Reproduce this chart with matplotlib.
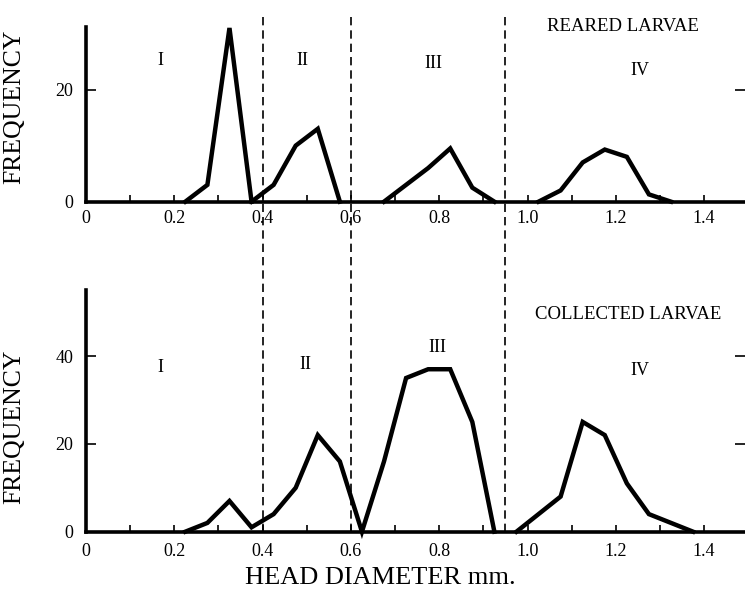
import matplotlib
matplotlib.use('Agg')
import matplotlib.pyplot as plt
import matplotlib.transforms as mtransforms
from matplotlib.ticker import MultipleLocator

plt.rcParams['font.family'] = ['Liberation Serif', 'DejaVu Serif']

# reared larvae, one line per instar
reared_I_x = [0.225, 0.275, 0.325, 0.375]
reared_I_y = [0, 3, 31, 0]
reared_II_x = [0.375, 0.425, 0.475, 0.525, 0.575]
reared_II_y = [0, 3, 10, 13, 0]
reared_III_x = [0.675, 0.725, 0.775, 0.825, 0.875, 0.925]
reared_III_y = [0, 3, 6, 9.5, 2.5, 0]
reared_IV_x = [1.025, 1.075, 1.125, 1.175, 1.225, 1.275, 1.325]
reared_IV_y = [0, 2, 7, 9.3, 8, 1.3, 0]

# collected larvae
coll_x = [0.225, 0.275, 0.325, 0.375, 0.425, 0.475, 0.525, 0.575, 0.625,
          0.675, 0.725, 0.775, 0.825, 0.875, 0.925]
coll_y = [0, 2, 7, 1, 4, 10, 22, 16, 0, 16, 35, 37, 37, 25, 0]
coll_IV_x = [0.975, 1.075, 1.125, 1.175, 1.225, 1.275, 1.375]
coll_IV_y = [0, 8, 25, 22, 11, 4, 0]

boundaries = [0.4, 0.6, 0.95]
instars = ['I', 'II', 'III', 'IV']
xticks = [0, 0.2, 0.4, 0.6, 0.8, 1.0, 1.2, 1.4]
xticklabels = ['0', '0.2', '0.4', '0.6', '0.8', '1.0', '1.2', '1.4']

fig = plt.figure(figsize=(7.45, 5.97), dpi=100)
ax1 = fig.add_axes([0.1154, 0.6622, 0.8846, 0.2928])
ax2 = fig.add_axes([0.1154, 0.1094, 0.8846, 0.4045])

xmax = 1.4926


def style(ax, ytop, yticks, pad_x):
    ax.set_xlim(0, xmax)
    ax.set_ylim(0, ytop)
    for s in ['top', 'right']:
        ax.spines[s].set_visible(False)
    ax.spines['left'].set_linewidth(2.6)
    ax.spines['bottom'].set_linewidth(2.6)
    ax.set_xticks(xticks)
    ax.set_xticklabels(xticklabels)
    ax.xaxis.set_minor_locator(MultipleLocator(0.1))
    ax.set_yticks(yticks)
    ax.tick_params(axis='x', which='both', direction='in', length=5, width=1.2,
                   labelsize=13, pad=pad_x)
    ax.tick_params(axis='y', which='major', direction='in', length=7, width=1.2,
                   labelsize=13, pad=9, right=True)
    ax.patch.set_alpha(0)


style(ax1, 31.2, [0, 20], 6)
style(ax2, 55, [0, 20, 40], 8)

lw = 3.2
for xs, ys in [(reared_I_x, reared_I_y), (reared_II_x, reared_II_y),
               (reared_III_x, reared_III_y), (reared_IV_x, reared_IV_y)]:
    ax1.plot(xs, ys, color='black', lw=lw, solid_joinstyle='miter', clip_on=False)
for xs, ys in [(coll_x, coll_y), (coll_IV_x, coll_IV_y)]:
    ax2.plot(xs, ys, color='black', lw=lw, solid_joinstyle='miter', clip_on=False)

# stage boundaries run through both panels
trans = mtransforms.blended_transform_factory(ax2.transData, fig.transFigure)
for b in boundaries:
    ax2.plot([b, b], [0.109, 0.98], transform=trans, color='black', lw=1.2,
             ls=(0, (5, 3)), clip_on=False)

# instar labels
up_pos = [(0.168, 25.2), (0.49, 25.2), (0.786, 24.6), (1.255, 23.4)]
low_pos = [(0.168, 37.5), (0.496, 38), (0.795, 42), (1.255, 36.8)]
for lab, (x, y) in zip(instars, up_pos):
    ax1.text(x, y, lab, ha='center', va='center', fontsize=13)
for lab, (x, y) in zip(instars, low_pos):
    ax2.text(x, y, lab, ha='center', va='center', fontsize=13)

ax1.text(1.216, 31.3, 'REARED LARVAE', ha='center', va='center', fontsize=13.5)
ax2.text(1.228, 49.4, 'COLLECTED LARVAE', ha='center', va='center', fontsize=13.5)

ax1.set_ylabel('FREQUENCY', fontsize=18.5)
ax1.yaxis.set_label_coords(-0.0926, 0.542)
ax2.set_ylabel('FREQUENCY', fontsize=18.5)
ax2.yaxis.set_label_coords(-0.0926, 0.434)
ax2.set_xlabel('HEAD DIAMETER mm.', fontsize=19)
ax2.xaxis.set_label_coords(0.446, -0.148)

fig.savefig('out.png', dpi=100)
